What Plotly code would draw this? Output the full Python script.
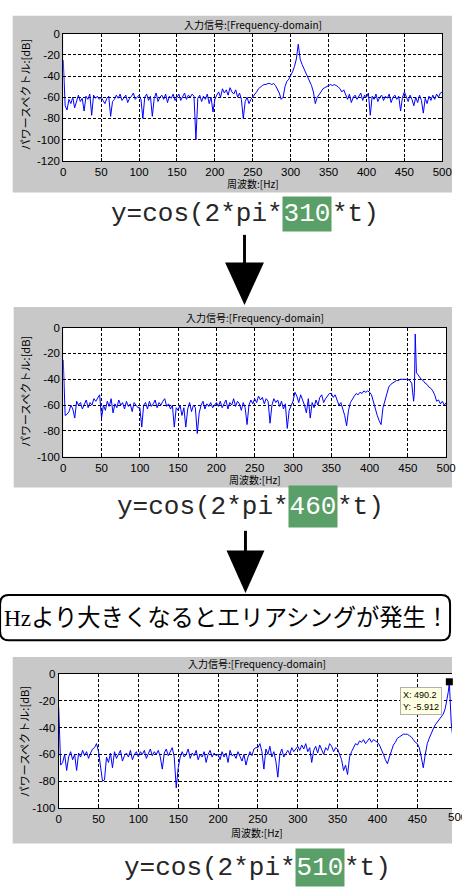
import plotly.graph_objects as go

# ---------------------------------------------------------------- data
# Frequency grid shared by the three spectra (Hz)
HZ = [i * 2.5 for i in range(201)]

# Power spectrum of y=cos(2*pi*310*t)  [dB]
TOP_DB = [
    -25, -68, -72, -62, -66, -60, -70, -63, -58, -64, -61, -73, -59, -62, -57, -77, -58, -61, -59, -62,
    -60, -63, -66, -61, -59, -78, -64, -62, -58, -61, -57, -63, -60, -58, -65, -61, -59, -56, -62, -60,
    -58, -62, -80, -60, -57, -63, -59, -78, -61, -56, -64, -60, -58, -62, -57, -65, -59, -61, -57, -63,
    -60, -57, -63, -59, -56, -62, -58, -60, -57, -59, -100, -61, -58, -64, -59, -62, -57, -66, -60, -74,
    -62, -58, -55, -60, -52, -56, -53, -58, -51, -55, -57, -53, -60, -56, -62, -80, -64, -60, -66, -62,
    -60, -57, -55, -52, -50, -49, -48, -48, -47, -47, -48, -47, -49, -52, -56, -62, -60, -50, -45, -43,
    -40, -36, -31, -24, -10, -24, -29, -33, -37, -40, -44, -49, -55, -66, -60, -58, -55, -52, -51, -50,
    -49, -48, -49, -48, -49, -50, -52, -55, -53, -58, -62, -57, -65, -60, -58, -62, -59, -56, -63, -58,
    -60, -56, -77, -59, -62, -57, -64, -60, -58, -63, -59, -61, -57, -65, -60, -58, -62, -59, -73, -60,
    -55, -60, -64, -58, -62, -68, -60, -65, -58, -63, -75, -61, -66, -59, -63, -58, -62, -57, -60, -56,
    -55,
]

# Power spectrum of y=cos(2*pi*460*t)  [dB]
MID_DB = [
    -25, -68, -67, -65, -60, -63, -70, -57, -60, -58, -63, -59, -56, -62, -58, -60, -55, -57, -54, -52,
    -70, -60, -64, -57, -61, -55, -66, -59, -62, -56, -60, -58, -63, -57, -61, -59, -65, -58, -60, -62,
    -62, -77, -60, -58, -63, -57, -61, -59, -56, -62, -58, -60, -57, -55, -61, -59, -63, -60, -77, -62,
    -64, -60, -68, -62, -77, -63, -58, -65, -60, -62, -82, -66, -60, -57, -63, -59, -61, -58, -62, -60,
    -58, -61, -57, -62, -59, -56, -63, -58, -60, -55, -61, -57, -59, -64, -58, -62, -75, -60, -56, -59,
    -55, -58, -53, -56, -54, -59, -55, -57, -74, -60, -55, -58, -56, -61, -57, -63, -59, -78, -64, -60,
    -57, -50, -53, -58, -52, -56, -60, -66, -55, -70, -58, -62, -56, -60, -54, -52, -58, -55, -53, -51,
    -51, -54, -52, -57, -60, -58, -63, -68, -76, -64, -58, -55, -53, -51, -52, -50, -51, -49, -50, -49,
    -50, -52, -58, -64, -68, -72, -75, -62, -56, -50, -46, -44, -43, -42, -41, -41, -40, -40, -40, -40,
    -40, -41, -43, -57, -5, -36, -38, -40, -41, -43, -44, -46, -47, -49, -52, -57, -56, -59, -57, -60,
    -58,
]
MID_PEAK_HZ = [458.5, 459.6, 460.4, 461.2]
MID_PEAK_DB = [-50, -5, -18, -35]

# Power spectrum of y=cos(2*pi*510*t), aliased to 490 Hz  [dB]
BOT_DB = [
    -25, -68, -66, -60, -72, -62, -58, -64, -60, -72, -59, -62, -57, -61, -58, -63, -59, -56, -55, -52,
    -58, -68, -80, -79, -62, -66, -59, -70, -58, -63, -60, -57, -65, -61, -59, -62, -57, -64, -60, -58,
    -62, -58, -60, -57, -63, -59, -56, -61, -58, -60, -57, -62, -71, -59, -56, -61, -58, -55, -62, -85,
    -70, -62, -58, -62, -60, -56, -63, -59, -61, -57, -64, -60, -62, -58, -66, -60, -57, -62, -59, -61,
    -60, -64, -58, -62, -59, -66, -57, -61, -60, -63, -58, -62, -65, -60, -68, -62, -58, -61, -56, -55,
    -55, -52, -58, -71, -56, -60, -54, -62, -58, -65, -77, -60, -56, -62, -59, -57, -60, -55, -58, -56,
    -54, -57, -53, -56, -52, -58, -55, -66, -57, -54, -59, -53, -56, -60, -55, -57, -52, -54, -58, -55,
    -56, -60, -64, -72, -68, -75, -62, -58, -55, -52, -53, -50, -51, -49, -52, -50, -48, -51, -49, -50,
    -51, -53, -56, -60, -64, -67, -62, -57, -53, -51, -48, -47, -46, -45, -45, -45, -46, -47, -49, -51,
    -52, -55, -62, -70, -60, -52, -48, -44, -41, -38, -36, -34, -32, -30, -26, -19, -8, -36, -50, -55,
    -58,
]
BOT_PEAK_HZ = [489.0, 490.2, 491.3]
BOT_PEAK_DB = [-13, -5.912, -24]

# Cursor readout on the aliased peak
TIP_HZ = 490.2
TIP_DB = -5.912

X_TICKS = [0, 50, 100, 150, 200, 250, 300, 350, 400, 450, 500]
Y_TICKS_120 = [-120, -100, -80, -60, -40, -20, 0]
Y_TICKS_100 = [-100, -80, -60, -40, -20, 0]

FORMULA_FREQS = ["310", "460", "510"]
FORMULA_HEAD = "y=cos(2*pi*"
FORMULA_TAIL = "*t)"

TITLE = "入力信号:[Frequency-domain]"
Y_LABEL = "パワースペクトル:[dB]"
X_LABEL = "周波数:[Hz]"
BANNER = "Hzより大きくなるとエリアシングが発生！"

# ---------------------------------------------------------------- helpers
W, H = 462, 890


def fx(px):
    return px / W


def fy(py):
    return 1 - py / H


def merge(hz, db, pk_hz=None, pk_db=None):
    pts = list(zip(hz, db))
    if pk_hz:
        lo, hi = min(pk_hz), max(pk_hz)
        pts = [p for p in pts if not (lo <= p[0] <= hi)] + list(zip(pk_hz, pk_db))
    pts.sort()
    return [p[0] for p in pts], [p[1] for p in pts]


fig = go.Figure()

LINE = dict(color="#0000ff", width=1)
for (hz, db), xa, ya in [
    (merge(HZ, TOP_DB), "x", "y"),
    (merge(HZ, MID_DB, MID_PEAK_HZ, MID_PEAK_DB), "x2", "y2"),
    (merge(HZ, BOT_DB, BOT_PEAK_HZ, BOT_PEAK_DB), "x3", "y3"),
]:
    fig.add_trace(go.Scatter(x=hz, y=db, mode="lines", line=LINE,
                             xaxis=xa, yaxis=ya, hoverinfo="skip", showlegend=False))

# data cursor marker
fig.add_trace(go.Scatter(x=[TIP_HZ], y=[TIP_DB], mode="markers",
                         marker=dict(symbol="square", size=7, color="black"),
                         xaxis="x3", yaxis="y3", hoverinfo="skip", showlegend=False,
                         cliponaxis=False))

TICKFONT = dict(family="Liberation Sans, Arial, sans-serif", size=11.5, color="black")


def axis_style(mirror):
    return dict(showline=True, linecolor="black", linewidth=1,
                mirror="ticks" if mirror else False, ticks="inside", ticklen=3,
                tickcolor="black", showgrid=True, gridcolor="black", gridwidth=1,
                griddash="3px,2px", zeroline=False, tickfont=TICKFONT, fixedrange=True)


def xaxis(domain, rng, anchor, mirror=True):
    return dict(domain=domain, range=rng, anchor=anchor, tickvals=X_TICKS,
                ticktext=[str(t) for t in X_TICKS], **axis_style(mirror))


def yaxis(domain, rng, ticks, anchor, mirror=True):
    return dict(domain=domain, range=rng, anchor=anchor, tickvals=ticks,
                ticktext=[str(t) for t in ticks], **axis_style(mirror))


# plot-area pixel boxes: (left, top, right, bottom)
BOX_TOP = (62, 28, 452, 157)
BOX_MID = (62, 326, 456, 457)
BOX_BOT = (57.3, 677, 462, 813)
BOT_PX_PER_HZ = 0.82
BOT_XMAX = (BOX_BOT[2] - BOX_BOT[0]) / BOT_PX_PER_HZ

fig.update_layout(
    xaxis=xaxis([fx(BOX_TOP[0]), fx(BOX_TOP[2])], [0, 500], "y"),
    yaxis=yaxis([fy(BOX_TOP[3]), fy(BOX_TOP[1])], [-120, 0], Y_TICKS_120, "x"),
    xaxis2=xaxis([fx(BOX_MID[0]), fx(BOX_MID[2])], [0, 500], "y2"),
    yaxis2=yaxis([fy(BOX_MID[3]), fy(BOX_MID[1])], [-100, 0], Y_TICKS_100, "x2"),
    xaxis3=xaxis([fx(BOX_BOT[0]), 1], [0, BOT_XMAX], "y3"),
    yaxis3=yaxis([fy(BOX_BOT[3]), fy(BOX_BOT[1])], [-100, 0], Y_TICKS_100, "x3", mirror=False),
)

shapes = []


def rect(x0, y0, x1, y1, fill, layer="below"):
    shapes.append(dict(type="rect", xref="paper", yref="paper", x0=fx(x0), x1=fx(x1),
                       y0=fy(y1), y1=fy(y0), fillcolor=fill, line=dict(width=0), layer=layer))


# grey figure panels and white axes areas
for panel, box in [((10, 10, 462, 189), BOX_TOP), ((11, 305, 462, 488), BOX_MID),
                   ((10, 660, 462, 849), BOX_BOT)]:
    rect(*panel, "#c8c8c8")
    rect(*box, "white")


def tri(points):
    return "M " + " L ".join(f"{fx(x):.5f},{fy(y):.5f}" for x, y in points) + " Z"


def arrow(xc, shaft_top, head_top, tip, half_w):
    rect(xc - 1.5, shaft_top, xc + 1.5, head_top + 1, "black", layer="above")
    shapes.append(dict(type="path", xref="paper", yref="paper",
                       path=tri([(xc - half_w, head_top), (xc + half_w, head_top), (xc, tip)]),
                       fillcolor="black", line=dict(width=0), layer="above"))


arrow(248.5, 232, 260, 303, 20)
arrow(249.5, 532, 552, 595, 19.5)

# rounded banner
bx0, by0, bx1, by1, r = -3, 597, 460, 643, 9
banner_path = (
    f"M {fx(bx0 + r)},{fy(by0)} L {fx(bx1 - r)},{fy(by0)} "
    f"Q {fx(bx1)},{fy(by0)} {fx(bx1)},{fy(by0 + r)} L {fx(bx1)},{fy(by1 - r)} "
    f"Q {fx(bx1)},{fy(by1)} {fx(bx1 - r)},{fy(by1)} L {fx(bx0 + r)},{fy(by1)} "
    f"Q {fx(bx0)},{fy(by1)} {fx(bx0)},{fy(by1 - r)} L {fx(bx0)},{fy(by0 + r)} "
    f"Q {fx(bx0)},{fy(by0)} {fx(bx0 + r)},{fy(by0)} Z")
shapes.append(dict(type="path", xref="paper", yref="paper", path=banner_path,
                   fillcolor="white", line=dict(width=2, color="black"), layer="below"))

fig.update_layout(shapes=shapes)

# ---------------------------------------------------------------- texts
ann = []
JP = "Noto Sans CJK JP, sans-serif"


def label(text, x, y, size=10, angle=0):
    ann.append(dict(text=text, x=fx(x), y=fy(y), xref="paper", yref="paper", showarrow=False,
                    textangle=angle, font=dict(family=JP, size=size, color="black"),
                    xanchor="center", yanchor="middle"))


for t_x, t_y, xl_y, yl_y in [(257, 19, 180, 90), (259, 316, 480, 391), (261, 666, 838, 746)]:
    label(TITLE, t_x, t_y)
    label(X_LABEL, t_x, xl_y)
    label(Y_LABEL, 22, yl_y, size=11, angle=-90)

# cut-off "500" tick label at the right edge of the last axes
ann.append(dict(text="500", x=fx(BOX_BOT[0] + BOT_PX_PER_HZ * 500), y=fy(822), xref="paper",
                yref="paper", showarrow=False, font=TICKFONT, xanchor="center",
                yanchor="middle"))

# formulas: head text, highlighted frequency, tail text
MONO = dict(family="Liberation Mono, DejaVu Sans Mono, monospace", size=26, color="#262626")
# (green box left, green box top, green box bottom)
FORMULA_ROWS = [(289, 194, 228), (295, 487, 528), (302, 855, 892)]
GREEN_W = 48
for freq, (gx, gt, gb) in zip(FORMULA_FREQS, FORMULA_ROWS):
    yc = (gt + gb) / 2
    ann.append(dict(text=FORMULA_HEAD, x=fx(gx), y=fy(yc), xref="paper", yref="paper",
                    showarrow=False, xanchor="right", yanchor="middle", borderpad=0,
                    font=MONO))
    ann.append(dict(text=freq, x=fx(gx + GREEN_W / 2), y=fy(yc), xref="paper", yref="paper",
                    showarrow=False, xanchor="center", yanchor="middle", borderpad=0,
                    width=GREEN_W, height=gb - gt, bgcolor="#5a9f68",
                    font=dict(MONO, color="white")))
    ann.append(dict(text=FORMULA_TAIL, x=fx(gx + GREEN_W), y=fy(yc), xref="paper",
                    yref="paper", showarrow=False, xanchor="left", yanchor="middle",
                    borderpad=0, font=MONO))

# banner text
ann.append(dict(text=BANNER, x=fx(0), y=fy(620), xref="paper", yref="paper",
                showarrow=False, xanchor="left", yanchor="middle", borderpad=0,
                font=dict(family="Liberation Serif, Noto Sans CJK JP, serif", size=23.3,
                          color="black")))

# data cursor readout
ann.append(dict(text=f"X: {TIP_HZ}<br>Y: {TIP_DB}", x=TIP_HZ, y=TIP_DB, xref="x3", yref="y3",
                showarrow=False, xanchor="right", yanchor="top", xshift=-7, yshift=-5,
                align="left", bgcolor="#ffffe1", bordercolor="#b0b0b0", borderwidth=1,
                borderpad=2, font=dict(family="Liberation Sans, Arial, sans-serif", size=9,
                                       color="black")))

fig.update_layout(
    annotations=ann,
    width=W, height=H, autosize=False,
    margin=dict(l=0, r=0, t=0, b=0, pad=0),
    paper_bgcolor="white", plot_bgcolor="rgba(0,0,0,0)",
    showlegend=False,
)

fig.write_html("out.html", config=dict(displayModeBar=False, staticPlot=True))
